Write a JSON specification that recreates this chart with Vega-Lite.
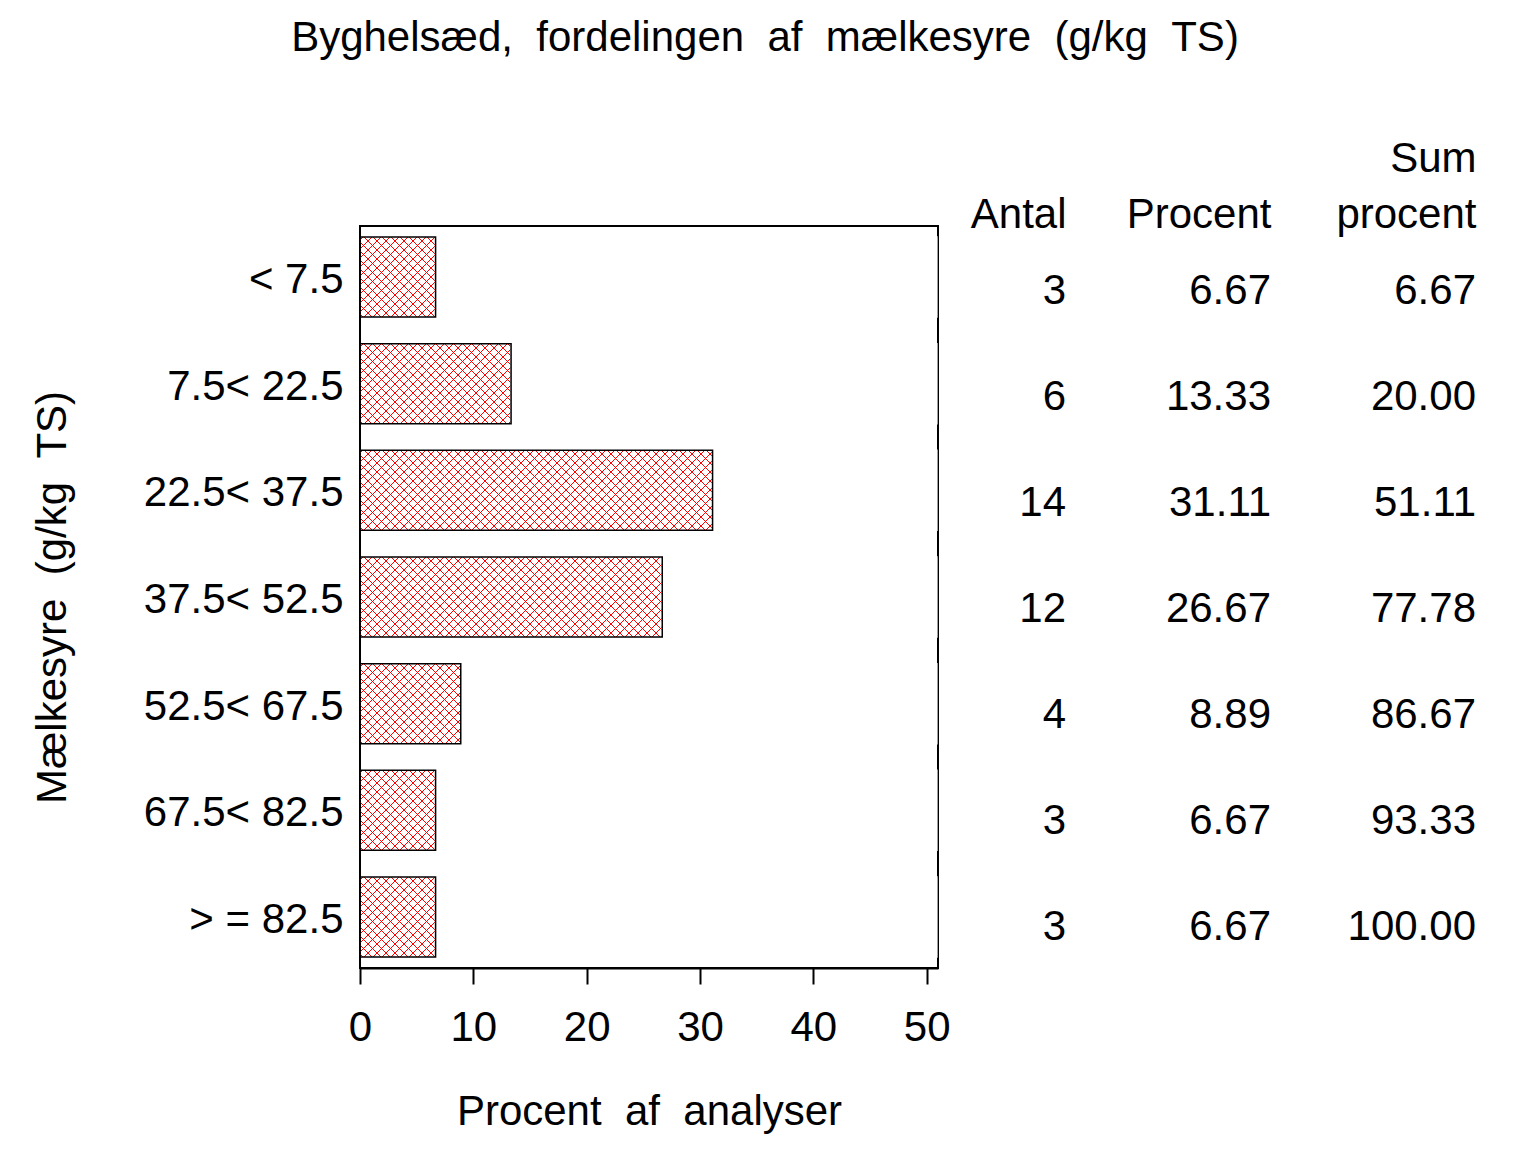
{
  "$schema": "https://vega.github.io/schema/vega-lite/v6.json",
  "background": "white",
  "padding": {"left": 30, "top": 17, "right": 10, "bottom": 10},
  "bounds": "flush",
  "spacing": 128,
  "title": {"text": "Byghelsæd,\u00a0\u00a0fordelingen\u00a0\u00a0af\u00a0\u00a0mælkesyre\u00a0\u00a0(g/kg\u00a0\u00a0TS)", "font": "Liberation Sans", "fontSize": 42, "fontWeight": "normal", "color": "black", "anchor": "middle", "offset": 77, "dx": 12},
  "datasets": {
    "rows": [
      {"cat": "< 7.5", "Antal": 3, "Procent": 6.67, "Sum": 6.67},
      {"cat": "7.5< 22.5", "Antal": 6, "Procent": 13.33, "Sum": 20.00},
      {"cat": "22.5< 37.5", "Antal": 14, "Procent": 31.11, "Sum": 51.11},
      {"cat": "37.5< 52.5", "Antal": 12, "Procent": 26.67, "Sum": 77.78},
      {"cat": "52.5< 67.5", "Antal": 4, "Procent": 8.89, "Sum": 86.67},
      {"cat": "67.5< 82.5", "Antal": 3, "Procent": 6.67, "Sum": 93.33},
      {"cat": "> = 82.5", "Antal": 3, "Procent": 6.67, "Sum": 100.00}
    ]
  },
  "data": {"name": "rows"},
  "config": {
    "font": "Liberation Sans",
    "view": {"stroke": "black", "strokeWidth": 2},
    "axis": {"labelFont": "Liberation Sans", "titleFont": "Liberation Sans", "labelColor": "black", "titleColor": "black", "titleFontWeight": "normal", "labelFontSize": 42, "titleFontSize": 42, "grid": false}
  },
  "hconcat": [
    {
      "width": 578,
      "height": 742,
      "encoding": {
        "y": {"field": "cat", "type": "nominal",
          "scale": {"domain": ["< 7.5", "7.5< 22.5", "22.5< 37.5", "37.5< 52.5", "52.5< 67.5", "67.5< 82.5", "> = 82.5"], "paddingInner": 0.25, "paddingOuter": 0.103125},
          "axis": {"title": "Mælkesyre\u00a0\u00a0(g/kg\u00a0\u00a0TS)", "ticks": false, "domain": false, "labelPadding": 17, "titlePadding": 86, "labelOffset": 3, "labelLimit": 500}
        }
      },
      "layer": [
        {
          "mark": {"type": "bar", "stroke": null, "fill": {"gradient": "linear", "x1": 0, "y1": 0, "x2": 1.11701, "y2": 0.154603, "stops": [
        {"offset":0,"color":"transparent"},
        {"offset":0.003799,"color":"transparent"},{"offset":0.003799,"color":"red"},{"offset":0.005319,"color":"red"},{"offset":0.005319,"color":"transparent"},
        {"offset":0.017477,"color":"transparent"},{"offset":0.017477,"color":"red"},{"offset":0.018997,"color":"red"},{"offset":0.018997,"color":"transparent"},
        {"offset":0.031155,"color":"transparent"},{"offset":0.031155,"color":"red"},{"offset":0.032675,"color":"red"},{"offset":0.032675,"color":"transparent"},
        {"offset":0.044833,"color":"transparent"},{"offset":0.044833,"color":"red"},{"offset":0.046353,"color":"red"},{"offset":0.046353,"color":"transparent"},
        {"offset":0.058511,"color":"transparent"},{"offset":0.058511,"color":"red"},{"offset":0.060030,"color":"red"},{"offset":0.060030,"color":"transparent"},
        {"offset":0.072188,"color":"transparent"},{"offset":0.072188,"color":"red"},{"offset":0.073708,"color":"red"},{"offset":0.073708,"color":"transparent"},
        {"offset":0.085866,"color":"transparent"},{"offset":0.085866,"color":"red"},{"offset":0.087386,"color":"red"},{"offset":0.087386,"color":"transparent"},
        {"offset":0.099544,"color":"transparent"},{"offset":0.099544,"color":"red"},{"offset":0.101064,"color":"red"},{"offset":0.101064,"color":"transparent"},
        {"offset":0.113222,"color":"transparent"},{"offset":0.113222,"color":"red"},{"offset":0.114742,"color":"red"},{"offset":0.114742,"color":"transparent"},
        {"offset":0.126900,"color":"transparent"},{"offset":0.126900,"color":"red"},{"offset":0.128419,"color":"red"},{"offset":0.128419,"color":"transparent"},
        {"offset":0.140578,"color":"transparent"},{"offset":0.140578,"color":"red"},{"offset":0.142097,"color":"red"},{"offset":0.142097,"color":"transparent"},
        {"offset":0.154255,"color":"transparent"},{"offset":0.154255,"color":"red"},{"offset":0.155775,"color":"red"},{"offset":0.155775,"color":"transparent"},
        {"offset":0.167933,"color":"transparent"},{"offset":0.167933,"color":"red"},{"offset":0.169453,"color":"red"},{"offset":0.169453,"color":"transparent"},
        {"offset":0.181611,"color":"transparent"},{"offset":0.181611,"color":"red"},{"offset":0.183131,"color":"red"},{"offset":0.183131,"color":"transparent"},
        {"offset":0.195289,"color":"transparent"},{"offset":0.195289,"color":"red"},{"offset":0.196809,"color":"red"},{"offset":0.196809,"color":"transparent"},
        {"offset":0.208967,"color":"transparent"},{"offset":0.208967,"color":"red"},{"offset":0.210486,"color":"red"},{"offset":0.210486,"color":"transparent"},
        {"offset":0.222644,"color":"transparent"},{"offset":0.222644,"color":"red"},{"offset":0.224164,"color":"red"},{"offset":0.224164,"color":"transparent"},
        {"offset":0.236322,"color":"transparent"},{"offset":0.236322,"color":"red"},{"offset":0.237842,"color":"red"},{"offset":0.237842,"color":"transparent"},
        {"offset":0.250000,"color":"transparent"},{"offset":0.250000,"color":"red"},{"offset":0.251520,"color":"red"},{"offset":0.251520,"color":"transparent"},
        {"offset":0.263678,"color":"transparent"},{"offset":0.263678,"color":"red"},{"offset":0.265198,"color":"red"},{"offset":0.265198,"color":"transparent"},
        {"offset":0.277356,"color":"transparent"},{"offset":0.277356,"color":"red"},{"offset":0.278875,"color":"red"},{"offset":0.278875,"color":"transparent"},
        {"offset":0.291033,"color":"transparent"},{"offset":0.291033,"color":"red"},{"offset":0.292553,"color":"red"},{"offset":0.292553,"color":"transparent"},
        {"offset":0.304711,"color":"transparent"},{"offset":0.304711,"color":"red"},{"offset":0.306231,"color":"red"},{"offset":0.306231,"color":"transparent"},
        {"offset":0.318389,"color":"transparent"},{"offset":0.318389,"color":"red"},{"offset":0.319909,"color":"red"},{"offset":0.319909,"color":"transparent"},
        {"offset":0.332067,"color":"transparent"},{"offset":0.332067,"color":"red"},{"offset":0.333587,"color":"red"},{"offset":0.333587,"color":"transparent"},
        {"offset":0.345745,"color":"transparent"},{"offset":0.345745,"color":"red"},{"offset":0.347264,"color":"red"},{"offset":0.347264,"color":"transparent"},
        {"offset":0.359422,"color":"transparent"},{"offset":0.359422,"color":"red"},{"offset":0.360942,"color":"red"},{"offset":0.360942,"color":"transparent"},
        {"offset":0.373100,"color":"transparent"},{"offset":0.373100,"color":"red"},{"offset":0.374620,"color":"red"},{"offset":0.374620,"color":"transparent"},
        {"offset":0.386778,"color":"transparent"},{"offset":0.386778,"color":"red"},{"offset":0.388298,"color":"red"},{"offset":0.388298,"color":"transparent"},
        {"offset":0.400456,"color":"transparent"},{"offset":0.400456,"color":"red"},{"offset":0.401976,"color":"red"},{"offset":0.401976,"color":"transparent"},
        {"offset":0.414134,"color":"transparent"},{"offset":0.414134,"color":"red"},{"offset":0.415653,"color":"red"},{"offset":0.415653,"color":"transparent"},
        {"offset":0.427812,"color":"transparent"},{"offset":0.427812,"color":"red"},{"offset":0.429331,"color":"red"},{"offset":0.429331,"color":"transparent"},
        {"offset":0.441489,"color":"transparent"},{"offset":0.441489,"color":"red"},{"offset":0.443009,"color":"red"},{"offset":0.443009,"color":"transparent"},
        {"offset":0.455167,"color":"transparent"},{"offset":0.455167,"color":"red"},{"offset":0.456687,"color":"red"},{"offset":0.456687,"color":"transparent"},
        {"offset":0.468845,"color":"transparent"},{"offset":0.468845,"color":"red"},{"offset":0.470365,"color":"red"},{"offset":0.470365,"color":"transparent"},
        {"offset":0.482523,"color":"transparent"},{"offset":0.482523,"color":"red"},{"offset":0.484043,"color":"red"},{"offset":0.484043,"color":"transparent"},
        {"offset":0.496201,"color":"transparent"},{"offset":0.496201,"color":"red"},{"offset":0.497720,"color":"red"},{"offset":0.497720,"color":"transparent"},
        {"offset":0.509878,"color":"transparent"},{"offset":0.509878,"color":"red"},{"offset":0.511398,"color":"red"},{"offset":0.511398,"color":"transparent"},
        {"offset":0.523556,"color":"transparent"},{"offset":0.523556,"color":"red"},{"offset":0.525076,"color":"red"},{"offset":0.525076,"color":"transparent"},
        {"offset":0.537234,"color":"transparent"},{"offset":0.537234,"color":"red"},{"offset":0.538754,"color":"red"},{"offset":0.538754,"color":"transparent"},
        {"offset":0.550912,"color":"transparent"},{"offset":0.550912,"color":"red"},{"offset":0.552432,"color":"red"},{"offset":0.552432,"color":"transparent"},
        {"offset":0.564590,"color":"transparent"},{"offset":0.564590,"color":"red"},{"offset":0.566109,"color":"red"},{"offset":0.566109,"color":"transparent"},
        {"offset":0.578267,"color":"transparent"},{"offset":0.578267,"color":"red"},{"offset":0.579787,"color":"red"},{"offset":0.579787,"color":"transparent"},
        {"offset":0.591945,"color":"transparent"},{"offset":0.591945,"color":"red"},{"offset":0.593465,"color":"red"},{"offset":0.593465,"color":"transparent"},
        {"offset":0.605623,"color":"transparent"},{"offset":0.605623,"color":"red"},{"offset":0.607143,"color":"red"},{"offset":0.607143,"color":"transparent"},
        {"offset":0.619301,"color":"transparent"},{"offset":0.619301,"color":"red"},{"offset":0.620821,"color":"red"},{"offset":0.620821,"color":"transparent"},
        {"offset":0.632979,"color":"transparent"},{"offset":0.632979,"color":"red"},{"offset":0.634498,"color":"red"},{"offset":0.634498,"color":"transparent"},
        {"offset":0.646657,"color":"transparent"},{"offset":0.646657,"color":"red"},{"offset":0.648176,"color":"red"},{"offset":0.648176,"color":"transparent"},
        {"offset":0.660334,"color":"transparent"},{"offset":0.660334,"color":"red"},{"offset":0.661854,"color":"red"},{"offset":0.661854,"color":"transparent"},
        {"offset":1,"color":"transparent"}
      ]}},
          "encoding": {
            "x": {"datum": 0, "type": "quantitative",
              "scale": {"domain": [0, 51], "nice": false, "zero": true},
              "axis": {"title": "Procent\u00a0\u00a0af\u00a0\u00a0analyser", "values": [0, 10, 20, 30, 40, 50], "tickSize": 16, "tickWidth": 2, "tickColor": "black", "domainColor": "black", "domainWidth": 2, "labelPadding": 23, "titlePadding": 43, "labelFlush": false, "labelOverlap": false}
            },
            "x2": {"datum": 51}
          }
        },
        {
          "mark": {"type": "bar", "stroke": null, "fill": {"gradient": "linear", "x1": 0, "y1": 1, "x2": 1.11701, "y2": 0.845397, "stops": [
        {"offset":0,"color":"transparent"},
        {"offset":0.003799,"color":"transparent"},{"offset":0.003799,"color":"red"},{"offset":0.005319,"color":"red"},{"offset":0.005319,"color":"transparent"},
        {"offset":0.017477,"color":"transparent"},{"offset":0.017477,"color":"red"},{"offset":0.018997,"color":"red"},{"offset":0.018997,"color":"transparent"},
        {"offset":0.031155,"color":"transparent"},{"offset":0.031155,"color":"red"},{"offset":0.032675,"color":"red"},{"offset":0.032675,"color":"transparent"},
        {"offset":0.044833,"color":"transparent"},{"offset":0.044833,"color":"red"},{"offset":0.046353,"color":"red"},{"offset":0.046353,"color":"transparent"},
        {"offset":0.058511,"color":"transparent"},{"offset":0.058511,"color":"red"},{"offset":0.060030,"color":"red"},{"offset":0.060030,"color":"transparent"},
        {"offset":0.072188,"color":"transparent"},{"offset":0.072188,"color":"red"},{"offset":0.073708,"color":"red"},{"offset":0.073708,"color":"transparent"},
        {"offset":0.085866,"color":"transparent"},{"offset":0.085866,"color":"red"},{"offset":0.087386,"color":"red"},{"offset":0.087386,"color":"transparent"},
        {"offset":0.099544,"color":"transparent"},{"offset":0.099544,"color":"red"},{"offset":0.101064,"color":"red"},{"offset":0.101064,"color":"transparent"},
        {"offset":0.113222,"color":"transparent"},{"offset":0.113222,"color":"red"},{"offset":0.114742,"color":"red"},{"offset":0.114742,"color":"transparent"},
        {"offset":0.126900,"color":"transparent"},{"offset":0.126900,"color":"red"},{"offset":0.128419,"color":"red"},{"offset":0.128419,"color":"transparent"},
        {"offset":0.140578,"color":"transparent"},{"offset":0.140578,"color":"red"},{"offset":0.142097,"color":"red"},{"offset":0.142097,"color":"transparent"},
        {"offset":0.154255,"color":"transparent"},{"offset":0.154255,"color":"red"},{"offset":0.155775,"color":"red"},{"offset":0.155775,"color":"transparent"},
        {"offset":0.167933,"color":"transparent"},{"offset":0.167933,"color":"red"},{"offset":0.169453,"color":"red"},{"offset":0.169453,"color":"transparent"},
        {"offset":0.181611,"color":"transparent"},{"offset":0.181611,"color":"red"},{"offset":0.183131,"color":"red"},{"offset":0.183131,"color":"transparent"},
        {"offset":0.195289,"color":"transparent"},{"offset":0.195289,"color":"red"},{"offset":0.196809,"color":"red"},{"offset":0.196809,"color":"transparent"},
        {"offset":0.208967,"color":"transparent"},{"offset":0.208967,"color":"red"},{"offset":0.210486,"color":"red"},{"offset":0.210486,"color":"transparent"},
        {"offset":0.222644,"color":"transparent"},{"offset":0.222644,"color":"red"},{"offset":0.224164,"color":"red"},{"offset":0.224164,"color":"transparent"},
        {"offset":0.236322,"color":"transparent"},{"offset":0.236322,"color":"red"},{"offset":0.237842,"color":"red"},{"offset":0.237842,"color":"transparent"},
        {"offset":0.250000,"color":"transparent"},{"offset":0.250000,"color":"red"},{"offset":0.251520,"color":"red"},{"offset":0.251520,"color":"transparent"},
        {"offset":0.263678,"color":"transparent"},{"offset":0.263678,"color":"red"},{"offset":0.265198,"color":"red"},{"offset":0.265198,"color":"transparent"},
        {"offset":0.277356,"color":"transparent"},{"offset":0.277356,"color":"red"},{"offset":0.278875,"color":"red"},{"offset":0.278875,"color":"transparent"},
        {"offset":0.291033,"color":"transparent"},{"offset":0.291033,"color":"red"},{"offset":0.292553,"color":"red"},{"offset":0.292553,"color":"transparent"},
        {"offset":0.304711,"color":"transparent"},{"offset":0.304711,"color":"red"},{"offset":0.306231,"color":"red"},{"offset":0.306231,"color":"transparent"},
        {"offset":0.318389,"color":"transparent"},{"offset":0.318389,"color":"red"},{"offset":0.319909,"color":"red"},{"offset":0.319909,"color":"transparent"},
        {"offset":0.332067,"color":"transparent"},{"offset":0.332067,"color":"red"},{"offset":0.333587,"color":"red"},{"offset":0.333587,"color":"transparent"},
        {"offset":0.345745,"color":"transparent"},{"offset":0.345745,"color":"red"},{"offset":0.347264,"color":"red"},{"offset":0.347264,"color":"transparent"},
        {"offset":0.359422,"color":"transparent"},{"offset":0.359422,"color":"red"},{"offset":0.360942,"color":"red"},{"offset":0.360942,"color":"transparent"},
        {"offset":0.373100,"color":"transparent"},{"offset":0.373100,"color":"red"},{"offset":0.374620,"color":"red"},{"offset":0.374620,"color":"transparent"},
        {"offset":0.386778,"color":"transparent"},{"offset":0.386778,"color":"red"},{"offset":0.388298,"color":"red"},{"offset":0.388298,"color":"transparent"},
        {"offset":0.400456,"color":"transparent"},{"offset":0.400456,"color":"red"},{"offset":0.401976,"color":"red"},{"offset":0.401976,"color":"transparent"},
        {"offset":0.414134,"color":"transparent"},{"offset":0.414134,"color":"red"},{"offset":0.415653,"color":"red"},{"offset":0.415653,"color":"transparent"},
        {"offset":0.427812,"color":"transparent"},{"offset":0.427812,"color":"red"},{"offset":0.429331,"color":"red"},{"offset":0.429331,"color":"transparent"},
        {"offset":0.441489,"color":"transparent"},{"offset":0.441489,"color":"red"},{"offset":0.443009,"color":"red"},{"offset":0.443009,"color":"transparent"},
        {"offset":0.455167,"color":"transparent"},{"offset":0.455167,"color":"red"},{"offset":0.456687,"color":"red"},{"offset":0.456687,"color":"transparent"},
        {"offset":0.468845,"color":"transparent"},{"offset":0.468845,"color":"red"},{"offset":0.470365,"color":"red"},{"offset":0.470365,"color":"transparent"},
        {"offset":0.482523,"color":"transparent"},{"offset":0.482523,"color":"red"},{"offset":0.484043,"color":"red"},{"offset":0.484043,"color":"transparent"},
        {"offset":0.496201,"color":"transparent"},{"offset":0.496201,"color":"red"},{"offset":0.497720,"color":"red"},{"offset":0.497720,"color":"transparent"},
        {"offset":0.509878,"color":"transparent"},{"offset":0.509878,"color":"red"},{"offset":0.511398,"color":"red"},{"offset":0.511398,"color":"transparent"},
        {"offset":0.523556,"color":"transparent"},{"offset":0.523556,"color":"red"},{"offset":0.525076,"color":"red"},{"offset":0.525076,"color":"transparent"},
        {"offset":0.537234,"color":"transparent"},{"offset":0.537234,"color":"red"},{"offset":0.538754,"color":"red"},{"offset":0.538754,"color":"transparent"},
        {"offset":0.550912,"color":"transparent"},{"offset":0.550912,"color":"red"},{"offset":0.552432,"color":"red"},{"offset":0.552432,"color":"transparent"},
        {"offset":0.564590,"color":"transparent"},{"offset":0.564590,"color":"red"},{"offset":0.566109,"color":"red"},{"offset":0.566109,"color":"transparent"},
        {"offset":0.578267,"color":"transparent"},{"offset":0.578267,"color":"red"},{"offset":0.579787,"color":"red"},{"offset":0.579787,"color":"transparent"},
        {"offset":0.591945,"color":"transparent"},{"offset":0.591945,"color":"red"},{"offset":0.593465,"color":"red"},{"offset":0.593465,"color":"transparent"},
        {"offset":0.605623,"color":"transparent"},{"offset":0.605623,"color":"red"},{"offset":0.607143,"color":"red"},{"offset":0.607143,"color":"transparent"},
        {"offset":0.619301,"color":"transparent"},{"offset":0.619301,"color":"red"},{"offset":0.620821,"color":"red"},{"offset":0.620821,"color":"transparent"},
        {"offset":0.632979,"color":"transparent"},{"offset":0.632979,"color":"red"},{"offset":0.634498,"color":"red"},{"offset":0.634498,"color":"transparent"},
        {"offset":0.646657,"color":"transparent"},{"offset":0.646657,"color":"red"},{"offset":0.648176,"color":"red"},{"offset":0.648176,"color":"transparent"},
        {"offset":0.660334,"color":"transparent"},{"offset":0.660334,"color":"red"},{"offset":0.661854,"color":"red"},{"offset":0.661854,"color":"transparent"},
        {"offset":1,"color":"transparent"}
      ]}},
          "encoding": {
            "x": {"datum": 0, "type": "quantitative"},
            "x2": {"datum": 51}
          }
        },
        {
          "mark": {"type": "bar", "fill": "white", "stroke": "white", "strokeWidth": 1.5},
          "encoding": {
            "x": {"field": "Procent", "type": "quantitative"},
            "x2": {"datum": 50.9}
          }
        },
        {
          "mark": {"type": "bar", "filled": false, "stroke": "black", "strokeWidth": 1.5},
          "encoding": {
            "x": {"field": "Procent", "type": "quantitative"}
          }
        }
      ]
    },
    {
      "width": 410,
      "height": 742,
      "view": {"stroke": null},
      "encoding": {
        "y": {"field": "cat", "type": "nominal",
          "scale": {"domain": ["< 7.5", "7.5< 22.5", "22.5< 37.5", "37.5< 52.5", "52.5< 67.5", "67.5< 82.5", "> = 82.5"], "paddingInner": 0.25, "paddingOuter": 0.103125},
          "axis": null
        }
      },
      "layer": [
        {
          "mark": {"type": "text", "align": "right", "baseline": "alphabetic", "dy": 25, "fontSize": 42, "font": "Liberation Sans", "color": "black"},
          "encoding": {
            "x": {"datum": "Antal", "type": "nominal",
              "scale": {"type": "point", "domain": ["Antal", "Procent", "Sum procent"], "padding": 0},
              "axis": {"orient": "top", "title": null, "domain": false, "ticks": false, "labelAngle": 0, "labelAlign": "right", "labelBaseline": "bottom", "labelPadding": 46, "labelLineHeight": 56, "labelExpr": "datum.value == 'Sum procent' ? ['Sum', 'procent'] : ['', datum.label]"}
            },
            "text": {"field": "Antal", "type": "quantitative"}
          }
        },
        {
          "mark": {"type": "text", "align": "right", "baseline": "alphabetic", "dy": 25, "fontSize": 42, "font": "Liberation Sans", "color": "black"},
          "encoding": {
            "x": {"datum": "Procent", "type": "nominal"},
            "text": {"field": "Procent", "type": "quantitative", "format": ".2f"}
          }
        },
        {
          "mark": {"type": "text", "align": "right", "baseline": "alphabetic", "dy": 25, "fontSize": 42, "font": "Liberation Sans", "color": "black"},
          "encoding": {
            "x": {"datum": "Sum procent", "type": "nominal"},
            "text": {"field": "Sum", "type": "quantitative", "format": ".2f"}
          }
        }
      ]
    }
  ]
}
